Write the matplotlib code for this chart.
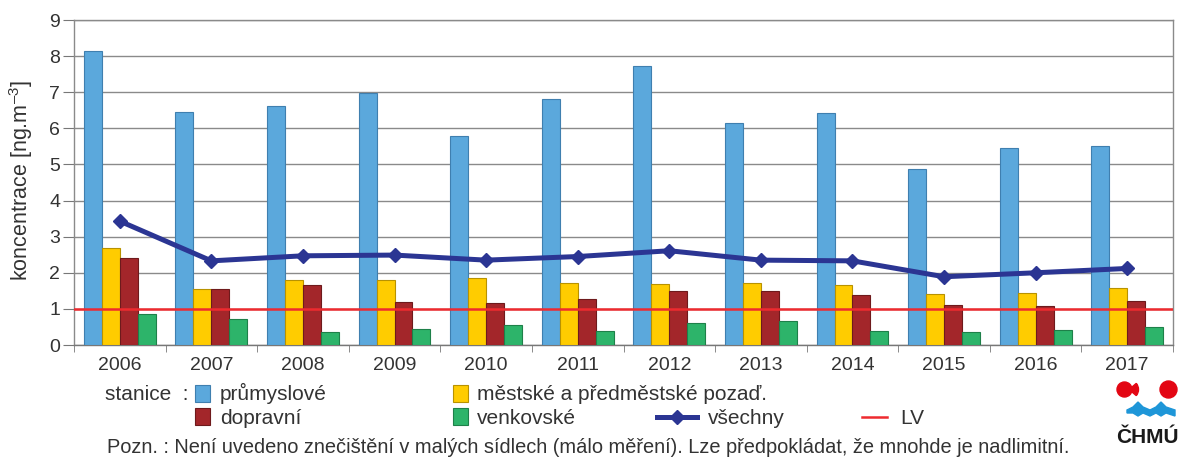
import matplotlib
matplotlib.use("Agg")
import matplotlib.pyplot as plt
import numpy as np
from matplotlib.patches import Rectangle, Circle, Wedge, Polygon
from matplotlib.lines import Line2D

plt.rcParams['font.family'] = ['Liberation Sans', 'DejaVu Sans']
plt.rcParams['mathtext.fontset'] = 'custom'
plt.rcParams['mathtext.rm'] = 'Liberation Sans'
plt.rcParams['mathtext.default'] = 'regular'

years = ['2006', '2007', '2008', '2009', '2010', '2011', '2012', '2013', '2014', '2015', '2016', '2017']
prumyslove = [8.15, 6.46, 6.62, 6.99, 5.80, 6.80, 7.74, 6.15, 6.42, 4.87, 5.46, 5.51]
mestske = [2.70, 1.56, 1.81, 1.81, 1.85, 1.73, 1.68, 1.71, 1.66, 1.40, 1.44, 1.58]
dopravni = [2.42, 1.56, 1.66, 1.19, 1.17, 1.27, 1.50, 1.50, 1.38, 1.10, 1.08, 1.23]
venkovske = [0.87, 0.71, 0.36, 0.44, 0.56, 0.40, 0.60, 0.67, 0.38, 0.36, 0.42, 0.51]
vsechny = [3.43, 2.33, 2.47, 2.49, 2.35, 2.45, 2.61, 2.35, 2.33, 1.89, 2.00, 2.12]
LV = 1.0

series_labels = ['průmyslové', 'městské a předměstské pozaď.', 'dopravní', 'venkovské']
colors = ['#5BA8DC', '#FFCC00', '#A3262A', '#2DB46A']
edges = ['#3F7FAF', '#B89200', '#6E1A1C', '#1E8049']

W, H = 1181, 458
fig = plt.figure(figsize=(W / 100, H / 100), dpi=100)

def fx(px):
    return px / W

def fy(py):
    return 1 - py / H

ax = fig.add_axes([fx(74), fy(345), fx(1173) - fx(74), fy(20) - fy(345)])

x = np.arange(len(years))
bw = 0.196
data = [prumyslove, mestske, dopravni, venkovske]
for i, (vals, c, e) in enumerate(zip(data, colors, edges)):
    ax.bar(x + (i - 1.5) * bw, vals, width=bw, color=c, edgecolor=e, linewidth=0.8, zorder=3)

ax.plot(x, vsechny, color='#2B3593', linewidth=3.6, marker='D', markersize=7,
        markerfacecolor='#2B3593', markeredgecolor='#2B3593', zorder=5)
ax.axhline(LV, color='#EE2A2F', linewidth=1.8, zorder=4)

ax.set_xlim(-0.5, len(years) - 0.5)
ax.set_ylim(0, 9)
ax.set_yticks(range(0, 10))
ax.yaxis.grid(True, color='#8A8A8A', linewidth=1.0, zorder=0)
ax.set_axisbelow(True)

ax.set_xticks(x)
ax.set_xticklabels(years, fontsize=14, color='#333333')
ax.tick_params(axis='x', length=0, pad=9)
ax.set_xticks(np.arange(-0.5, len(years)), minor=True)
ax.tick_params(axis='x', which='minor', length=5, color='#777777', direction='out')
ax.tick_params(axis='y', labelsize=14, labelcolor='#333333', length=8, color='#777777', pad=2)

for s in ['left', 'right', 'top', 'bottom']:
    ax.spines[s].set_color('#8A8A8A')
    ax.spines[s].set_linewidth(1.0)
ax.spines['bottom'].set_color('#777777')

fig.text(fx(21), fy(181), 'koncentrace [ng.m$^{–3}$]', rotation=90, ha='center', va='center',
         fontsize=15.5, color='#333333')

# legend (custom layout)
tc = '#333333'
fs = 15
b1, b2 = 400, 424

def patch(xp, ytop, c, e):
    fig.add_artist(Rectangle((fx(xp), fy(ytop + 17)), 15 / W, 17 / H, facecolor=c, edgecolor=e,
                             linewidth=0.8, transform=fig.transFigure))

fig.text(fx(105), fy(b1), 'stanice  :', fontsize=fs, color=tc, ha='left', va='baseline')
patch(195, 385, colors[0], edges[0])
fig.text(fx(220), fy(b1), series_labels[0], fontsize=fs, color=tc, ha='left', va='baseline')
patch(195, 408, colors[2], edges[2])
fig.text(fx(220), fy(b2), series_labels[2], fontsize=fs, color=tc, ha='left', va='baseline')
patch(453, 385, colors[1], edges[1])
fig.text(fx(477), fy(b1), series_labels[1], fontsize=fs, color=tc, ha='left', va='baseline')
patch(453, 408, colors[3], edges[3])
fig.text(fx(477), fy(b2), series_labels[3], fontsize=fs, color=tc, ha='left', va='baseline')

fig.add_artist(Line2D([fx(657), fx(697)], [fy(417), fy(417)], color='#2B3593', linewidth=3.6,
                      transform=fig.transFigure))
fig.add_artist(Line2D([fx(677)], [fy(417)], color='#2B3593', marker='D', markersize=7,
                      transform=fig.transFigure))
fig.text(fx(708), fy(b2), 'všechny', fontsize=fs, color=tc, ha='left', va='baseline')
fig.add_artist(Line2D([fx(862), fx(887)], [fy(417), fy(417)], color='#EE2A2F', linewidth=1.8,
                      transform=fig.transFigure))
fig.text(fx(900), fy(b2), 'LV', fontsize=fs, color=tc, ha='left', va='baseline')

fig.text(fx(107), fy(453), 'Pozn. : Není uvedeno znečištění v malých sídlech (málo měření). '
         'Lze předpokládat, že mnohde je nadlimitní.', fontsize=14.4, color=tc, ha='left', va='baseline')

# logo ČHMÚ
lax = fig.add_axes([fx(1108), fy(458), fx(1181) - fx(1108), fy(376) - fy(458)])
lax.set_xlim(1108, 1181)
lax.set_ylim(458, 376)
lax.set_aspect('auto')
lax.axis('off')
red = '#E30613'
lax.add_patch(Circle((1124.5, 389.5), 7.5, color=red))
lax.add_patch(Wedge((1129, 389.5), 9.5, -40, 40, color=red))
lax.add_patch(Circle((1168.5, 389.5), 8.5, color=red))
wave = Polygon([(1127, 413), (1127, 410), (1133, 407), (1138, 402), (1143, 407), (1150, 410),
                (1156, 407), (1161, 402), (1166, 407), (1175, 410), (1175, 416), (1166, 413),
                (1161, 416), (1156, 413), (1150, 416), (1143, 413), (1138, 416), (1133, 413)],
               closed=True, color='#1E96D8')
lax.add_patch(wave)
lax.text(1147.5, 443, 'ČHMÚ', fontsize=15, fontweight='bold', color='#1A1A1A', ha='center',
         va='baseline')

fig.savefig('out.png', dpi=100)
